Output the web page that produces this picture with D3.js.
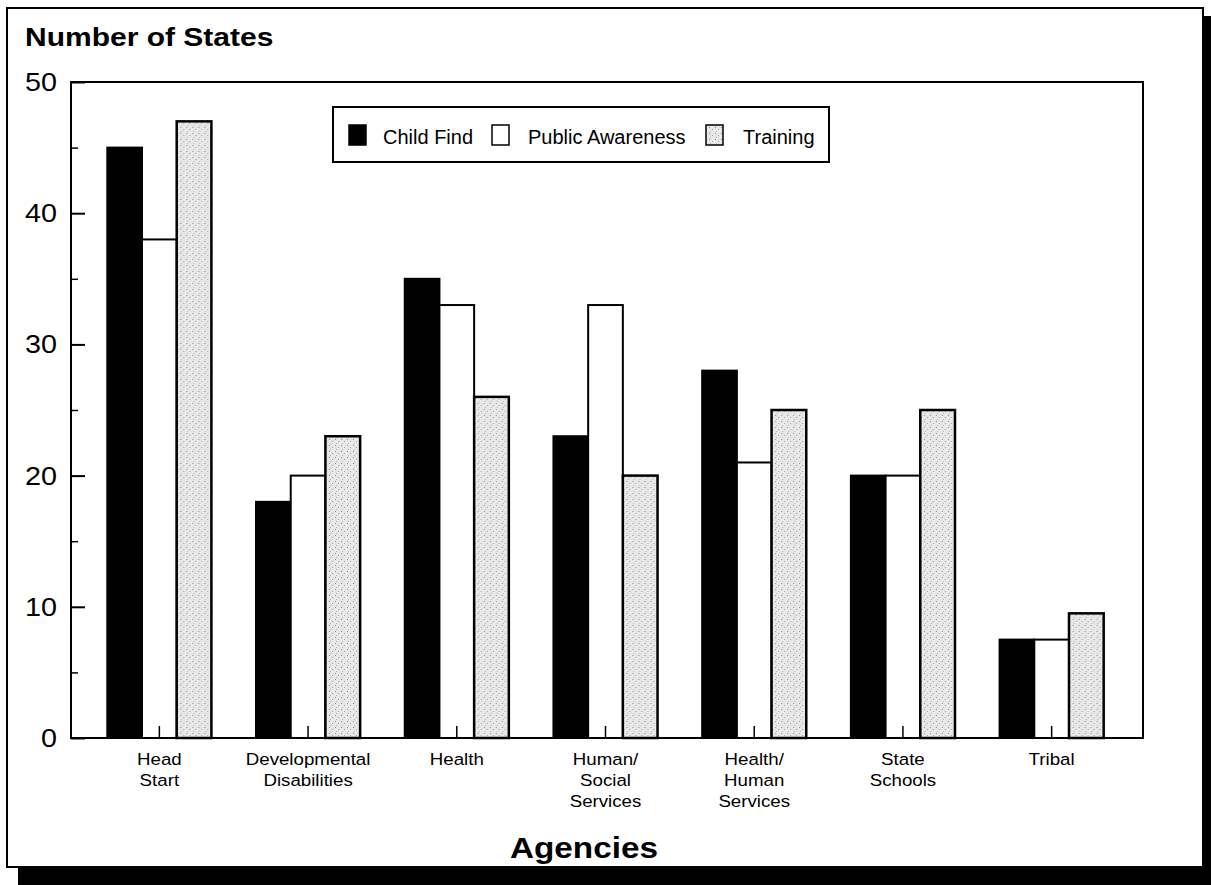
<!DOCTYPE html>
<html>
<head>
<meta charset="utf-8">
<script src="https://cdn.jsdelivr.net/npm/d3@7"></script>
<style>
  html, body { margin: 0; padding: 0; background: #fff; }
  svg { display: block; font-family: "Liberation Sans", Arial, Helvetica, sans-serif; }
</style>
</head>
<body>
<svg id="chart" width="1211" height="885"></svg>
<script>
const categories = ["Head Start", "Developmental Disabilities", "Health", "Human/ Social Services", "Health/ Human Services", "State Schools", "Tribal"];
const categoryLines = [["Head", "Start"], ["Developmental", "Disabilities"], ["Health"], ["Human/", "Social", "Services"], ["Health/", "Human", "Services"], ["State", "Schools"], ["Tribal"]];
const seriesNames = ["Child Find", "Public Awareness", "Training"];
const childFind = [45, 18, 35, 23, 28, 20, 7.5];
const publicAwareness = [38, 20, 33, 33, 21, 20, 7.5];
const training = [47, 23, 26, 20, 25, 25, 9.5];
const yTicks = [0, 10, 20, 30, 40, 50];
const yMinorTicks = [5, 15, 25, 35, 45];

const seriesValues = [childFind, publicAwareness, training];
const fills = ["#000", "#fff", "url(#stipple)"];

const svg = d3.select("#chart");

// stipple pattern for Training
const defs = svg.append("defs");
const pat = defs.append("pattern").attr("id", "stipple").attr("patternUnits", "userSpaceOnUse")
  .attr("width", 6).attr("height", 6);
pat.append("rect").attr("width", 6).attr("height", 6).attr("fill", "#e8e8e8");
pat.append("rect").attr("x", 1).attr("y", 1).attr("width", 1).attr("height", 1).attr("fill", "#8a8a8a");
pat.append("rect").attr("x", 4).attr("y", 3).attr("width", 1).attr("height", 1).attr("fill", "#a0a0a0");
pat.append("rect").attr("x", 2).attr("y", 5).attr("width", 1).attr("height", 1).attr("fill", "#b5b5b5");

// helper: horizontally stretched text (the scan is wider than tall)
function stretchedText(parent, x, y, txt, size, sx, opts = {}) {
  const t = parent.append("text")
    .attr("transform", `translate(${x},${y}) scale(${sx},1)`)
    .attr("font-size", size).attr("fill", "#000")
    .attr("text-anchor", opts.anchor || "start")
    .attr("font-weight", opts.weight || "normal")
    .text(txt);
  return t;
}

// Outer frame with shadow
svg.append("rect").attr("x", 18).attr("y", 866).attr("width", 1193).attr("height", 19).attr("fill", "#000");
svg.append("rect").attr("x", 1202).attr("y", 16).attr("width", 9).attr("height", 869).attr("fill", "#000");
svg.append("rect").attr("x", 7).attr("y", 8).attr("width", 1196).attr("height", 859)
  .attr("fill", "#fff").attr("stroke", "#000").attr("stroke-width", 2);

const plot = { left: 71, right: 1143, top: 82, bottom: 738 };

const y = d3.scaleLinear().domain([0, 50]).range([plot.bottom, plot.top]);
const x0 = d3.scaleBand().domain(categories).range([85, 1126]).paddingInner(0.3).paddingOuter(0.15);
const x1 = d3.scaleBand().domain(seriesNames).range([0, x0.bandwidth()]);

// Plot box
svg.append("rect").attr("x", plot.left).attr("y", plot.top)
  .attr("width", plot.right - plot.left).attr("height", plot.bottom - plot.top)
  .attr("fill", "none").attr("stroke", "#000").attr("stroke-width", 2);

// Bars
const groups = svg.append("g").selectAll("g").data(categories).join("g")
  .attr("transform", d => `translate(${x0(d)},0)`);
groups.selectAll("rect").data((c, i) => seriesNames.map((s, j) => ({ s, j, v: seriesValues[j][i] })))
  .join("rect")
  .attr("x", d => x1(d.s))
  .attr("y", d => y(d.v))
  .attr("width", x1.bandwidth())
  .attr("height", d => plot.bottom - y(d.v))
  .attr("fill", d => fills[d.j])
  .attr("stroke", "#000")
  .attr("stroke-width", d => d.j === 2 ? 2.5 : 2);

// Y axis ticks (inward)
const yAxis = d3.axisRight(y).tickValues(yTicks).tickSize(14).tickFormat("");
svg.append("g").attr("transform", `translate(${plot.left},0)`).call(yAxis)
  .call(g => g.select(".domain").remove())
  .call(g => g.selectAll("line").attr("stroke-width", 2));
const yMinor = d3.axisRight(y).tickValues(yMinorTicks).tickSize(7).tickFormat("");
svg.append("g").attr("transform", `translate(${plot.left},0)`).call(yMinor)
  .call(g => g.select(".domain").remove())
  .call(g => g.selectAll("line").attr("stroke-width", 1.5));

// Y tick labels
const yLab = svg.append("g");
yTicks.forEach(d => stretchedText(yLab, 57, y(d) + 9, d, 25, 1.15, { anchor: "end" }));

// X ticks (inward, at group centres)
const xCenter = d => x0(d) + x0.bandwidth() / 2;
svg.append("g").selectAll("line").data(categories).join("line")
  .attr("x1", xCenter).attr("x2", xCenter)
  .attr("y1", plot.bottom).attr("y2", plot.bottom - 12)
  .attr("stroke", "#000").attr("stroke-width", 1.5);

// X category labels
const xLab = svg.append("g");
categories.forEach((c, i) => {
  categoryLines[i].forEach((line, k) => {
    stretchedText(xLab, xCenter(c), 765 + 21 * k, line, 17, 1.1, { anchor: "middle" });
  });
});

// Titles
stretchedText(svg, 25, 46, "Number of States", 25, 1.2, { weight: "bold" });
stretchedText(svg, 584, 858, "Agencies", 30, 1.11, { anchor: "middle", weight: "bold" });

// Legend
const legend = svg.append("g");
legend.append("rect").attr("x", 333).attr("y", 107).attr("width", 496).attr("height", 55)
  .attr("fill", "#fff").attr("stroke", "#000").attr("stroke-width", 2);
const legendSwatchX = [349, 492, 706];
const legendTextX = [383, 528, 743];
seriesNames.forEach((s, j) => {
  legend.append("rect").attr("x", legendSwatchX[j]).attr("y", 125)
    .attr("width", 17).attr("height", 20)
    .attr("fill", fills[j]).attr("stroke", "#000").attr("stroke-width", 1.5);
  stretchedText(legend, legendTextX[j], 144, s, 20, 1.0);
});
</script>
</body>
</html>
